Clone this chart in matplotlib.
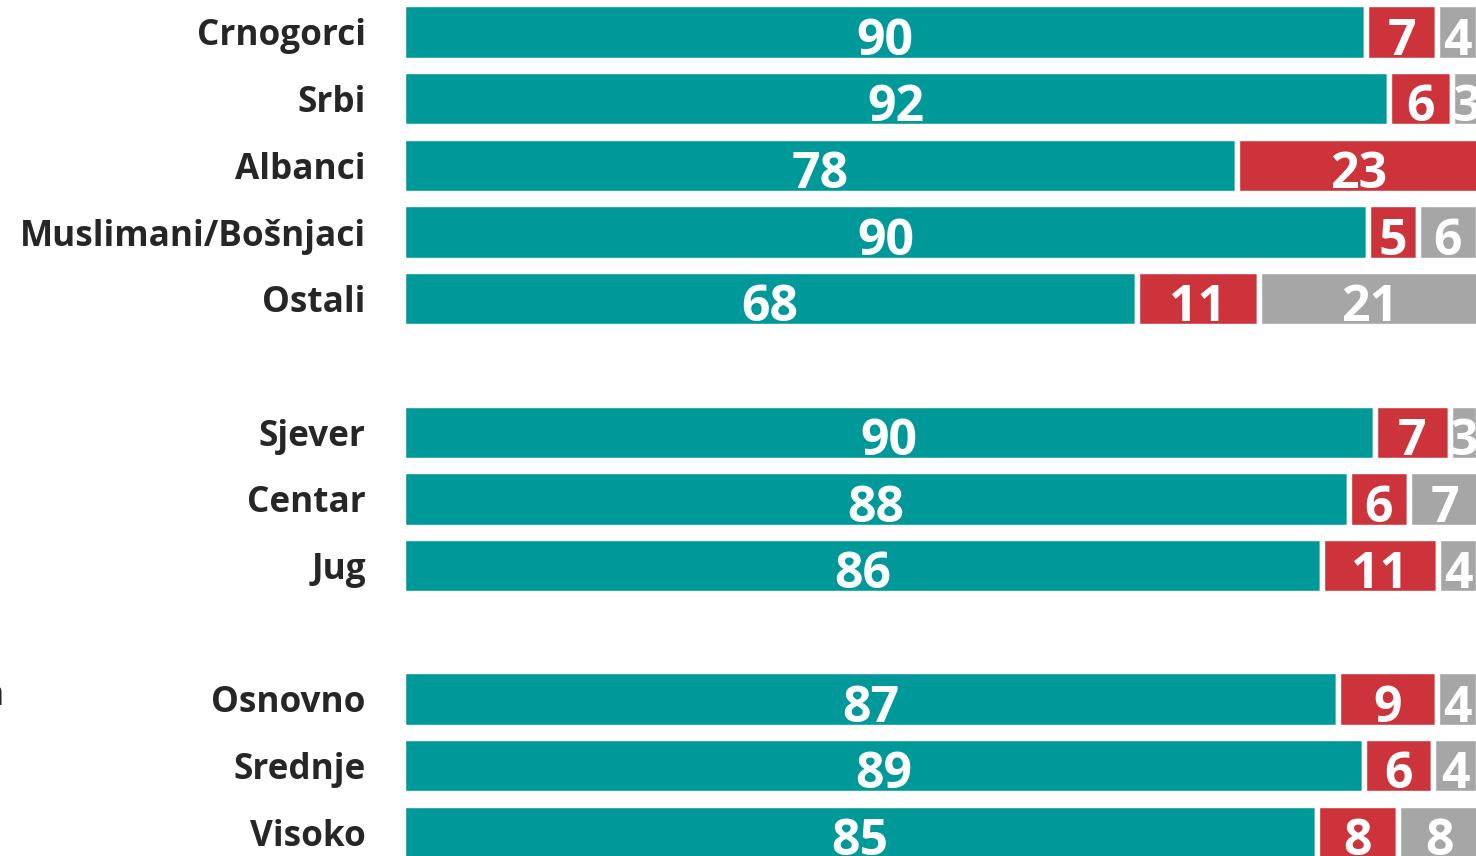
"""Stacked horizontal bars: share of answers per group (ethnicity, region, education)."""
import matplotlib.pyplot as plt
import numpy as np

plt.rcParams['font.family'] = ['Open Sans', 'DejaVu Sans']

categories = ["Crnogorci", "Srbi", "Albanci", "Muslimani/Bošnjaci", "Ostali",
              "Sjever", "Centar", "Jug",
              "Osnovno", "Srednje", "Visoko"]
# shares in percent (labels are the rounded values)
teal_vals = [89.6, 91.7, 77.6, 89.8, 68.3, 90.4, 88.0, 85.5, 87.0, 89.4, 85.0]
red_vals = [6.6, 5.9, 22.6, 4.6, 11.3, 7.0, 5.6, 10.8, 9.2, 6.4, 7.6]
gray_vals = [3.8, 2.6, 0.0, 5.6, 20.6, 2.6, 6.6, 3.7, 3.8, 4.2, 7.6]
group_label = "Nivo obrazovanja"

# rows with an empty slot between the groups
positions = [0, 1, 2, 3, 4, 6, 7, 8, 10, 11, 12]

TEAL = "#009999"
RED = "#cc333b"
GRAY = "#a6a6a6"

W, H = 1476, 856
fig = plt.figure(figsize=(W / 100, H / 100), dpi=100)

# pixel layout: bars start at ~403px, 10.745px per percent, rows 66.7px apart
px_per_unit = 10.745
row_px = 66.7
x0 = 403.3
ax = fig.add_axes([x0 / W, 0, 100 * px_per_unit / W, 1])
ax.set_xlim(0, 100)
top = -32 / row_px
ax.set_ylim(top + H / row_px, top)

left = np.zeros(len(categories))
for vals, color in [(teal_vals, TEAL), (red_vals, RED), (gray_vals, GRAY)]:
    vals = np.array(vals, dtype=float)
    bars = ax.barh(positions, vals, left=left, height=0.83, color=color,
                   edgecolor="white", linewidth=3.9)
    for bar, v in zip(bars, vals):
        if v <= 0:
            continue
        t = ax.text(bar.get_x() + bar.get_width() / 2, bar.get_y() + bar.get_height() / 2 + 0.34,
                    f"{round(v)}", ha="center", va="baseline", color="white",
                    fontsize=36, fontweight="bold")
        t.set_clip_path(bar)
    left += vals

ax.set_yticks(positions)
ax.set_yticklabels(categories, fontsize=25.3, fontweight="bold", color="#262626")
ax.tick_params(axis="y", length=0, pad=27)
ax.set_xticks([])
for s in ax.spines.values():
    s.set_visible(False)

# group title, mostly cut off at the left edge (as in the source)
fig.text(4 / W, 1 - 705 / H, group_label, ha="right", va="baseline",
         fontsize=25.3, fontweight="bold", color="#262626")

fig.savefig("out.png", dpi=100)
